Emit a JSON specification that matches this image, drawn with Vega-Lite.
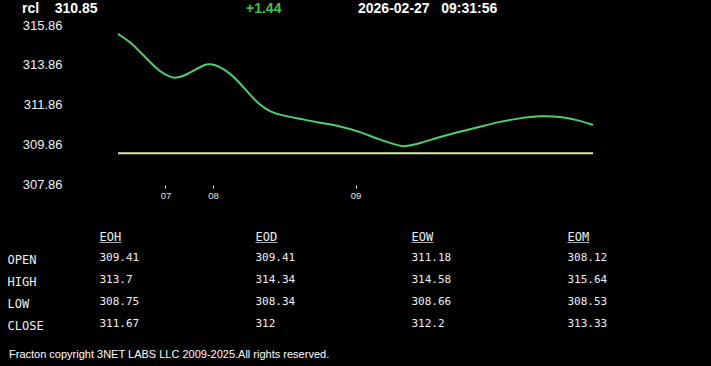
{
  "$schema": "https://vega.github.io/schema/vega-lite/v6.json",
  "width": 711,
  "height": 366,
  "autosize": {"type": "none"},
  "padding": 0,
  "background": "#000000",
  "config": {"view": {"stroke": null}, "axis": {"grid": false, "domain": false}},
  "datasets": {
    "price": [
      {"t": 0, "price": 315.41}, {"t": 2.5, "price": 315.02}, {"t": 4.6, "price": 314.52},
      {"t": 6.7, "price": 314.01}, {"t": 8.8, "price": 313.51}, {"t": 11.0, "price": 313.24},
      {"t": 12.2, "price": 313.18}, {"t": 14.1, "price": 313.32}, {"t": 16.2, "price": 313.6},
      {"t": 18.3, "price": 313.87}, {"t": 19.4, "price": 313.92}, {"t": 21.5, "price": 313.76},
      {"t": 23.6, "price": 313.43}, {"t": 25.7, "price": 312.93}, {"t": 27.8, "price": 312.34},
      {"t": 29.9, "price": 311.83}, {"t": 32.0, "price": 311.5}, {"t": 34.1, "price": 311.33},
      {"t": 38.3, "price": 311.14}, {"t": 42.5, "price": 310.94}, {"t": 46.7, "price": 310.78},
      {"t": 51.0, "price": 310.49}, {"t": 55.2, "price": 310.07}, {"t": 59.4, "price": 309.77},
      {"t": 60.4, "price": 309.74}, {"t": 63.6, "price": 309.91}, {"t": 67.8, "price": 310.24},
      {"t": 72.0, "price": 310.49}, {"t": 76.2, "price": 310.74}, {"t": 80.4, "price": 311.0},
      {"t": 84.6, "price": 311.17}, {"t": 88.8, "price": 311.29}, {"t": 93.1, "price": 311.26},
      {"t": 97.3, "price": 311.05}, {"t": 100, "price": 310.83}
    ],
    "open": [{"t": 0, "t_end": 100, "price": 309.41}],
    "table": [
      {"period": "EOH", "metric": "hdr", "value": "EOH"},
      {"period": "EOD", "metric": "hdr", "value": "EOD"},
      {"period": "EOW", "metric": "hdr", "value": "EOW"},
      {"period": "EOM", "metric": "hdr", "value": "EOM"},
      {"period": "EOH", "metric": "OPEN", "value": 309.41},
      {"period": "EOD", "metric": "OPEN", "value": 309.41},
      {"period": "EOW", "metric": "OPEN", "value": 311.18},
      {"period": "EOM", "metric": "OPEN", "value": 308.12},
      {"period": "EOH", "metric": "HIGH", "value": 313.7},
      {"period": "EOD", "metric": "HIGH", "value": 314.34},
      {"period": "EOW", "metric": "HIGH", "value": 314.58},
      {"period": "EOM", "metric": "HIGH", "value": 315.64},
      {"period": "EOH", "metric": "LOW", "value": 308.75},
      {"period": "EOD", "metric": "LOW", "value": 308.34},
      {"period": "EOW", "metric": "LOW", "value": 308.66},
      {"period": "EOM", "metric": "LOW", "value": 308.53},
      {"period": "EOH", "metric": "CLOSE", "value": 311.67},
      {"period": "EOD", "metric": "CLOSE", "value": 312},
      {"period": "EOW", "metric": "CLOSE", "value": 312.2},
      {"period": "EOM", "metric": "CLOSE", "value": 313.33}
    ],
    "header": [
      {"item": "symbol", "text": "rcl\u00a0\u00a0\u00a0\u00a0310.85"},
      {"item": "change", "text": "+1.44"},
      {"item": "timestamp", "text": "2026-02-27\u00a0\u00a0\u00a009:31:56"}
    ],
    "footer": [
      {"item": "note", "text": "Fracton copyright 3NET LABS LLC 2009-2025.All rights reserved."}
    ]
  },
  "layer": [
    {
      "layer": [
        {
          "data": {"name": "price"},
          "mark": {"type": "line", "color": "#4fd06c", "strokeWidth": 2, "interpolate": "basis"},
          "encoding": {
            "x": {
              "field": "t", "type": "quantitative",
              "scale": {"domain": [-24.842, 124.842], "nice": false, "zero": false},
              "axis": {
                "orient": "bottom", "offset": -181, "title": null,
                "values": [10, 20, 50],
                "labelExpr": "datum.value == 10 ? '07' : datum.value == 20 ? '08' : '09'",
                "ticks": true, "tickSize": 3, "tickColor": "#e8e8e8", "tickWidth": 1,
                "labelPadding": 2, "labelFontSize": 9.5, "labelFont": "Liberation Sans",
                "labelColor": "#dde6ef", "labelFlush": false, "labelOverlap": false
              }
            },
            "y": {
              "field": "price", "type": "quantitative",
              "scale": {"domain": [298.703, 317.118], "nice": false, "zero": false},
              "axis": {
                "orient": "left", "offset": -62, "title": null,
                "values": [307.86, 309.86, 311.86, 313.86, 315.86],
                "format": ".2f", "ticks": false, "tickSize": 0, "labelPadding": 0,
                "labelFontSize": 13, "labelFont": "Liberation Sans", "labelColor": "#f2f2f2",
                "labelOverlap": false, "labelFlush": false
              }
            }
          }
        },
        {
          "data": {"name": "open"},
          "mark": {"type": "rule", "color": "#dbeaa4", "strokeWidth": 2},
          "encoding": {
            "x": {"field": "t", "type": "quantitative", "axis": {"title": null}},
            "x2": {"field": "t_end"},
            "y": {"field": "price", "type": "quantitative", "axis": {"title": null}}
          }
        }
      ]
    },
    {
      "data": {"name": "table"},
      "encoding": {
        "x": {
          "field": "period", "type": "nominal",
          "scale": {"type": "point", "domain": ["EOH", "EOD", "EOW", "EOM"], "range": [99.5, 567.5], "padding": 0},
          "axis": null
        },
        "y": {
          "field": "metric", "type": "nominal",
          "scale": {"type": "point", "domain": ["hdr", "OPEN", "HIGH", "LOW", "CLOSE"], "range": [236.5, 323.5], "padding": 0},
          "axis": {
            "orient": "left", "offset": -7, "title": null,
            "values": ["OPEN", "HIGH", "LOW", "CLOSE"],
            "labelAlign": "left", "labelBaseline": "middle", "labelPadding": 0,
            "ticks": false, "tickSize": 0, "labelOffset": 1.5,
            "labelFont": "DejaVu Sans Mono", "labelFontSize": 12, "labelColor": "#f0f0f0"
          }
        }
      },
      "layer": [
        {
          "transform": [{"filter": "datum.metric != 'hdr'"}],
          "mark": {"type": "text", "align": "left", "baseline": "middle", "font": "DejaVu Sans Mono", "fontSize": 11, "color": "#f0f0f0"},
          "encoding": {"text": {"field": "value", "type": "nominal"}}
        },
        {
          "transform": [{"filter": "datum.metric == 'hdr'"}],
          "mark": {"type": "text", "align": "left", "baseline": "middle", "font": "DejaVu Sans Mono", "fontSize": 12, "color": "#f0f0f0"},
          "encoding": {"text": {"field": "value", "type": "nominal"}}
        },
        {
          "transform": [{"filter": "datum.metric == 'hdr'"}],
          "mark": {"type": "tick", "orient": "horizontal", "size": 22, "thickness": 1, "color": "#f0f0f0", "xOffset": 11, "yOffset": 6}
        }
      ]
    },
    {
      "data": {"name": "header"},
      "mark": {"type": "text", "align": "left", "baseline": "middle", "font": "Liberation Sans", "fontWeight": "bold", "fontSize": 14},
      "encoding": {
        "x": {
          "field": "item", "type": "nominal",
          "scale": {"type": "point", "domain": ["symbol", "spacer", "change", "timestamp"], "range": [22, 358], "padding": 0},
          "axis": null
        },
        "y": {
          "datum": "header", "type": "nominal",
          "scale": {"type": "point", "domain": ["header"], "range": [9, 9], "padding": 0},
          "axis": null
        },
        "text": {"field": "text", "type": "nominal"},
        "color": {"condition": {"test": "datum.item == 'change'", "value": "#3ec44c"}, "value": "#ffffff"}
      }
    },
    {
      "data": {"name": "footer"},
      "mark": {"type": "text", "align": "left", "baseline": "middle", "font": "Liberation Sans", "fontSize": 11, "color": "#ffffff"},
      "encoding": {
        "x": {
          "field": "item", "type": "nominal",
          "scale": {"type": "point", "domain": ["note"], "range": [9, 9], "padding": 0},
          "axis": null
        },
        "y": {
          "datum": "footer", "type": "nominal",
          "scale": {"type": "point", "domain": ["footer"], "range": [355, 355], "padding": 0},
          "axis": null
        },
        "text": {"field": "text", "type": "nominal"}
      }
    }
  ],
  "resolve": {"scale": {"x": "independent", "y": "independent"}}
}
